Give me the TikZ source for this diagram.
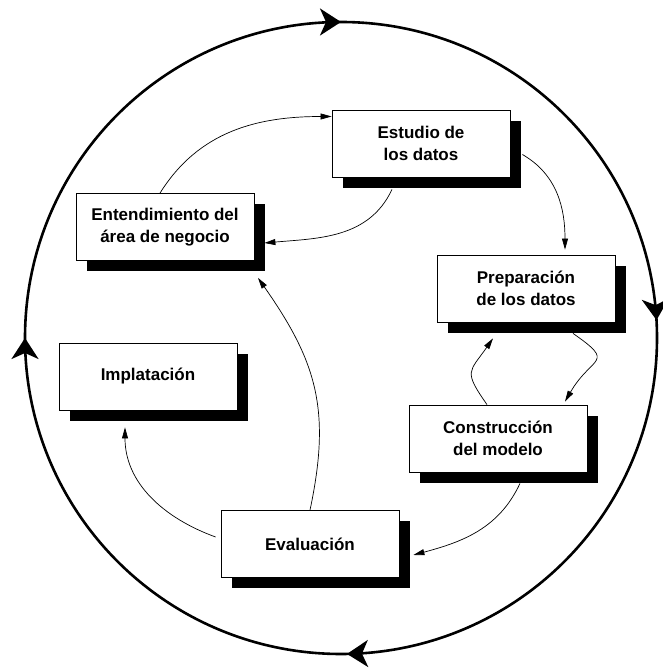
\documentclass[tikz,border=0pt]{standalone}
\usepackage{fontspec}
\setmainfont{Liberation Sans}
\usetikzlibrary{arrows.meta,shadows,backgrounds,decorations.markings}

\begin{document}
\begin{tikzpicture}[
  x=1pt, y=1pt,
  phase/.style = {shape=rectangle, draw, line width=0.8pt, fill=white,
    minimum width=178pt, minimum height=67pt, align=center,
    font=\fontsize{17}{22}\selectfont\bfseries,
    drop shadow={shadow xshift=11pt, shadow yshift=-11pt, fill=black, opacity=1}},
  link/.style = {line width=0.7pt, -{Triangle[length=11pt, width=6pt]}},
  cycletip/.style = {decoration={markings,
      mark=at position 0.009 with {\arrowreversed{Stealth[length=21pt, width=27pt, inset=6pt]}},
      mark=at position 0.25 with {\arrowreversed{Stealth[length=21pt, width=27pt, inset=6pt]}},
      mark=at position 0.5 with {\arrowreversed{Stealth[length=21pt, width=27pt, inset=6pt]}},
      mark=at position 0.753 with {\arrowreversed{Stealth[length=21pt, width=27pt, inset=6pt]}}},
    postaction={decorate}}
  ]
  \useasboundingbox (0,0) rectangle (663,669);

  \draw[line width=2.6pt, cycletip] (341,331) circle[radius=316];

  \node[phase] (ent)  at (165,442)   {Entendimiento del\\área de negocio};
  \node[phase] (est)  at (421,525.5) {Estudio de\\los datos};
  \node[phase] (prep) at (526,380.5) {Preparación\\de los datos};
  \node[phase] (cons) at (498,230.5) {Construcción\\del modelo};
  \node[phase] (eval) at (310,125)   {Evaluación};
  \node[phase] (impl) at (148,292.5) {Implatación};

  % connectors go behind the shadows
  \begin{pgfonlayer}{background}
    \draw[link] ([xshift=-5pt]ent.north) to[out=58, in=180] ([yshift=27pt]est.west);
    \draw[link] ([xshift=-29pt, yshift=-12pt]est.south) to[out=-115, in=5] ([xshift=10pt, yshift=-16pt]ent.east);
    \draw[link] ([xshift=12pt, yshift=-11pt]est.east) to[out=-30, in=90] ([xshift=39pt, yshift=5pt]prep.north);
    \draw[link] ([xshift=47pt, yshift=-11pt]prep.south) to[out=-35, in=60, looseness=2] ([xshift=67pt, yshift=3pt]cons.north);
    \draw[link] ([xshift=-11pt]cons.north) to[out=125, in=-125, looseness=1.6] ([xshift=-33pt, yshift=-16pt]prep.south);
    \draw[link] ([xshift=22pt, yshift=-11pt]cons.south) to[out=-115, in=15] ([xshift=14pt, yshift=-11pt]eval.east);
    \draw[link] (eval.north) to[out=78, in=-55, looseness=1.1] ([xshift=93pt, yshift=-17pt]ent.south);
    \draw[link] ([xshift=-5pt, yshift=7pt]eval.west) to[out=160, in=-90] ([xshift=-23pt, yshift=-17pt]impl.south);
  \end{pgfonlayer}
\end{tikzpicture}
\end{document}
